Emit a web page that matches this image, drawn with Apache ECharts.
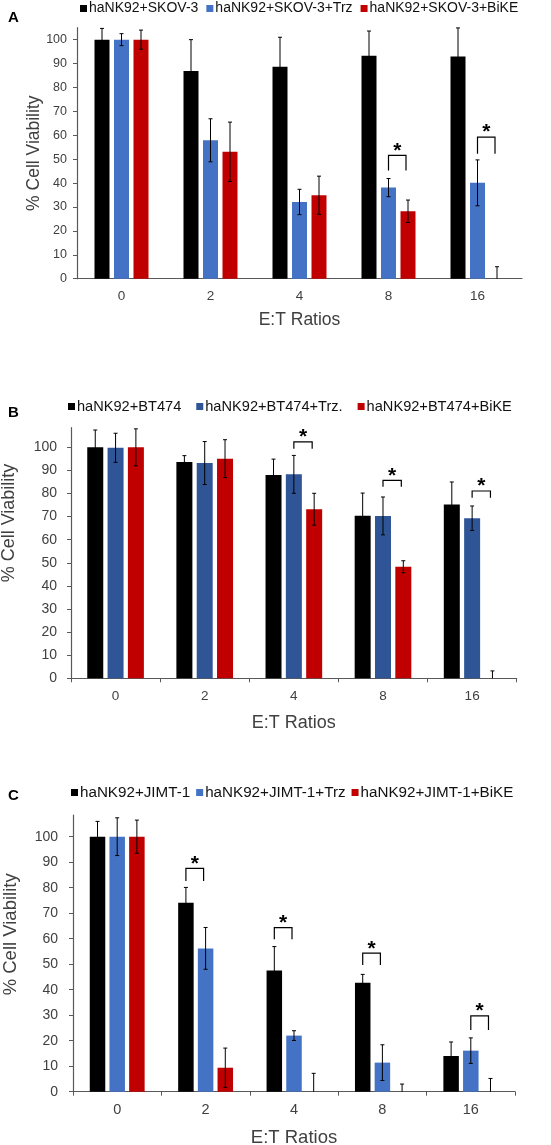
<!DOCTYPE html>
<html>
<head>
<meta charset="utf-8">
<script src="https://cdn.jsdelivr.net/npm/echarts@6/dist/echarts.min.js"></script>
<style>
  html, body { margin: 0; padding: 0; background: #fff; }
  #chart { width: 551px; height: 1145px; }
</style>
</head>
<body>
<div id="chart"></div>
<script>
const ratios = ['0', '2', '4', '8', '16'];
const yTicks = [0, 10, 20, 30, 40, 50, 60, 70, 80, 90, 100];

// panel A: SKOV-3
const skovNames = ['haNK92+SKOV-3', 'haNK92+SKOV-3+Trz', 'haNK92+SKOV-3+BiKE'];
const skovAlone = [100, 86.9, 88.7, 93.3, 92.9];
const skovAloneErr = [4.7, 13.1, 12.3, 10.3, 12];
const skovTrz = [100, 57.9, 32.1, 38.1, 40.1];
const skovTrzErr = [2.5, 9, 5.3, 3.8, 9.6];
const skovBike = [100, 53.1, 34.9, 28.2, 0];
const skovBikeErr = [4, 12.4, 8, 4.7, 5];
// [category, from bar, to bar, bracket top, leg end]
const skovSig = [[3, 1, 2, 51.6, 45.3], [4, 1, 2, 59.2, 52.3]];

// panel B: BT474
const btNames = ['haNK92+BT474', 'haNK92+BT474+Trz.', 'haNK92+BT474+BiKE'];
const btAlone = [100, 93.6, 88, 70.4, 75.3];
const btAloneErr = [7.5, 2.8, 6.9, 9.8, 9.7];
const btTrz = [99.8, 93.2, 88.3, 70.3, 69.3];
const btTrzErr = [6.3, 9.3, 8.2, 8.2, 5.3];
const btBike = [100, 95.1, 73.2, 48.3, 0];
const btBikeErr = [8, 8.2, 6.9, 2.6, 3.2];
const btSig = [[2, 1, 2, 102.4, 99.4], [3, 1, 2, 85.7, 82.9], [4, 1, 2, 81.1, 78.2]];

// panel C: JIMT-1
const jimtNames = ['haNK92+JIMT-1', 'haNK92+JIMT-1+Trz', 'haNK92+JIMT-1+BiKE'];
const jimtAlone = [100, 74.1, 47.5, 42.7, 14];
const jimtAloneErr = [6, 6, 9.4, 3.3, 5.5];
const jimtTrz = [100, 56.2, 22, 11.4, 16.1];
const jimtTrzErr = [7.4, 8.2, 1.9, 7, 5];
const jimtBike = [100, 9.4, 0, 0, 0];
const jimtBikeErr = [6.5, 7.7, 7.2, 3, 5.2];
const jimtSig = [[1, 0, 1, 87.6, 82.6], [2, 0, 1, 64.3, 59.8], [3, 0, 1, 54.3, 49.7], [4, 1, 2, 29.7, 24.2]];

const AXIS_GREY = '#595959';
const FONT = 'Liberation Sans, Arial, sans-serif';

const panels = [
  {
    letter: 'A', letterTop: 5, names: skovNames,
    means: [skovAlone, skovTrz, skovBike], errs: [skovAloneErr, skovTrzErr, skovBikeErr], sig: skovSig,
    colors: ['#000000', '#4472C4', '#C00000'],
    grid: { left: 77, top: 27.7, width: 445, height: 251 }, max: 105,
    barWidth: 15, barGap: 0.3, xTicks: false,
    legend: { left: 80, top: 1.5, itemGap: 8, fontSize: 14 },
    yFont: 12.5, xFont: 13.5, titleFont: 17.5,
    yNameGap: 34, yNameShift: 0, labelMargin: 10, xNameGap: 32
  },
  {
    letter: 'B', letterTop: 400, names: btNames,
    means: [btAlone, btTrz, btBike], errs: [btAloneErr, btTrzErr, btBikeErr], sig: btSig,
    colors: ['#000000', '#2F5597', '#C00000'],
    grid: { left: 71, top: 427.7, width: 445.7, height: 250.6 }, max: 108.5,
    barWidth: 16, barGap: 0.27, xTicks: true,
    legend: { left: 68, top: 399, itemGap: 15, fontSize: 14.6 },
    yFont: 14, xFont: 13.5, titleFont: 18,
    yNameGap: 53, yNameShift: 60, labelMargin: 14, xNameGap: 36
  },
  {
    letter: 'C', letterTop: 783, names: jimtNames,
    means: [jimtAlone, jimtTrz, jimtBike], errs: [jimtAloneErr, jimtTrzErr, jimtBikeErr], sig: jimtSig,
    colors: ['#000000', '#4472C4', '#C00000'],
    grid: { left: 73, top: 815, width: 442, height: 276.7 }, max: 108.5,
    barWidth: 15.5, barGap: 0.27, xTicks: true,
    legend: { left: 71, top: 785, itemGap: 6, fontSize: 15.2 },
    yFont: 14, xFont: 14.5, titleFont: 18.5,
    yNameGap: 53, yNameShift: 38, labelMargin: 15, xNameGap: 37
  }
];

function errorBarRenderer(spacing) {
  return function (params, api) {
    const cat = api.value(0);
    const slot = api.value(1);
    const mean = api.value(2);
    const err = api.value(3);
    const lo = Math.max(0, mean - err);
    const x = api.coord([cat, 0])[0] + (slot - 1) * spacing;
    const yHi = api.coord([cat, mean + err])[1];
    const yLo = api.coord([cat, lo])[1];
    const style = { stroke: '#000', lineWidth: 1 };
    const children = [
      { type: 'line', shape: { x1: x, y1: yHi, x2: x, y2: yLo }, style },
      { type: 'line', shape: { x1: x - 2, y1: yHi, x2: x + 2, y2: yHi }, style }
    ];
    if (mean - err >= 0) {
      children.push({ type: 'line', shape: { x1: x - 2, y1: yLo, x2: x + 2, y2: yLo }, style });
    }
    return { type: 'group', children };
  };
}

function bracketRenderer(spacing) {
  return function (params, api) {
    const cat = api.value(0);
    const c = api.coord([cat, 0])[0];
    const x1 = c + (api.value(1) - 1) * spacing;
    const x2 = c + (api.value(2) - 1) * spacing - 2;
    const yTop = api.coord([cat, api.value(3)])[1];
    const yLeg = api.coord([cat, api.value(4)])[1];
    return {
      type: 'group',
      children: [
        {
          type: 'polyline',
          shape: { points: [[x1, yLeg], [x1, yTop], [x2, yTop], [x2, yLeg]] },
          style: { stroke: '#000', lineWidth: 1.2, fill: null }
        },
        {
          type: 'text',
          style: {
            text: '*', x: (x1 + x2) / 2, y: yTop + 6,
            align: 'center', verticalAlign: 'bottom',
            font: 'bold 21px ' + FONT, fill: '#000'
          }
        }
      ]
    };
  };
}

const option = {
  animation: false,
  backgroundColor: '#fff',
  textStyle: { fontFamily: FONT },
  title: [], legend: [], grid: [], xAxis: [], yAxis: [], series: []
};

panels.forEach((p, i) => {
  const spacing = p.barWidth * (1 + p.barGap);
  option.title.push({
    text: p.letter, left: 3, top: p.letterTop,
    textStyle: { fontSize: 15, fontWeight: 'bold', color: '#000', fontFamily: FONT }
  });
  option.legend.push({
    data: p.names, left: p.legend.left, top: p.legend.top, itemGap: p.legend.itemGap,
    icon: 'rect', itemWidth: 7, itemHeight: 7, padding: 0,
    textStyle: { fontSize: p.legend.fontSize, color: '#111', fontFamily: FONT, padding: [0, 0, 0, -3] }
  });
  option.grid.push(Object.assign({ containLabel: false, outerBoundsMode: 'none' }, p.grid));
  option.xAxis.push({
    type: 'category', gridIndex: i, data: ratios,
    name: 'E:T Ratios', nameLocation: 'middle', nameGap: p.xNameGap, nameMoveOverlap: false,
    nameTextStyle: { fontSize: p.titleFont, color: '#404040', fontFamily: FONT },
    axisLine: { lineStyle: { color: AXIS_GREY, width: 1.2 } },
    axisTick: { show: p.xTicks, length: 4, lineStyle: { color: AXIS_GREY } },
    axisLabel: { fontSize: p.xFont, color: '#404040', margin: 11, fontFamily: FONT }
  });
  option.yAxis.push({
    type: 'value', gridIndex: i, min: 0, max: p.max,
    name: '% Cell Viability', nameLocation: 'middle', nameGap: p.yNameGap, nameRotate: 90,
    nameMoveOverlap: false,
    nameTextStyle: { fontSize: p.titleFont, color: '#404040', fontFamily: FONT, padding: [0, 0, 0, p.yNameShift] },
    splitLine: { show: false },
    axisLine: { show: true, lineStyle: { color: AXIS_GREY, width: 1.2 } },
    axisTick: { show: true, length: 4, customValues: yTicks, lineStyle: { color: AXIS_GREY } },
    axisLabel: { fontSize: p.yFont, color: '#404040', margin: p.labelMargin, customValues: yTicks, fontFamily: FONT }
  });
  p.names.forEach((name, s) => {
    option.series.push({
      type: 'bar', name, xAxisIndex: i, yAxisIndex: i,
      data: p.means[s], barWidth: p.barWidth, barGap: (p.barGap * 100) + '%',
      itemStyle: { color: p.colors[s] }, z: 2
    });
  });
  p.names.forEach((name, s) => {
    option.series.push({
      type: 'custom', xAxisIndex: i, yAxisIndex: i, z: 3,
      renderItem: errorBarRenderer(spacing),
      data: p.means[s].map((m, c) => [c, s, m, p.errs[s][c]]),
      encode: { x: 0, y: 2 }, silent: true, clip: false
    });
  });
  option.series.push({
    type: 'custom', xAxisIndex: i, yAxisIndex: i, z: 4,
    renderItem: bracketRenderer(spacing),
    data: p.sig, encode: { x: 0, y: 3 }, silent: true, clip: false
  });
});

const chart = echarts.init(document.getElementById('chart'), null, { renderer: 'canvas' });
chart.setOption(option);
</script>
</body>
</html>
